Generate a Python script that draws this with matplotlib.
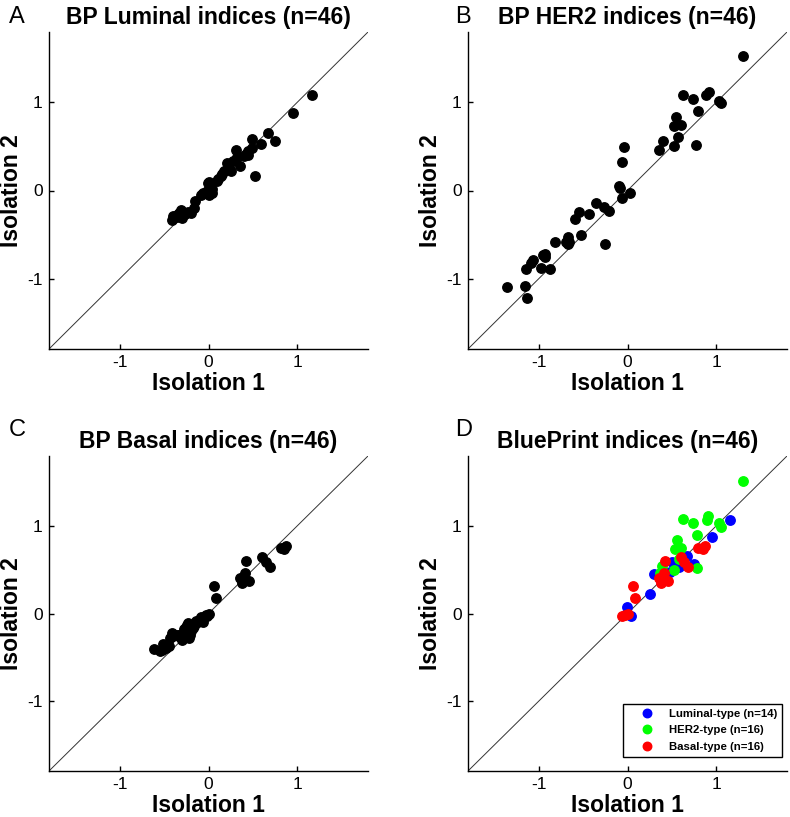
import matplotlib
matplotlib.use("Agg")
import matplotlib.pyplot as plt

plt.rcParams['font.family'] = ['Liberation Sans', 'DejaVu Sans']
plt.rcParams['axes.unicode_minus'] = False

# Panel A: BP Luminal indices
lum_x = [1.17, 0.95, 0.67, 0.75, 0.59, 0.49, 0.49, 0.45, 0.42, 0.40, 0.31, 0.32, 0.35, 0.53,
         0.21, 0.23, 0.25, 0.18, 0.14, 0.11, 0.10, 0.00, -0.01, 0.02, 0.04, 0.04, -0.02, -0.06,
         0.01, -0.15, -0.16, -0.20, -0.23, -0.28, -0.31, -0.33, -0.40, -0.41, -0.30, -0.26,
         -0.36, 0.28, 0.15, 0.45, -0.08, -0.35]
lum_y = [1.08, 0.88, 0.65, 0.56, 0.53, 0.58, 0.48, 0.45, 0.41, 0.39, 0.46, 0.38, 0.28, 0.16,
         0.31, 0.26, 0.22, 0.22, 0.17, 0.13, 0.11, 0.10, 0.08, 0.04, 0.02, -0.03, 0.00, -0.03,
         -0.05, -0.12, -0.20, -0.25, -0.24, -0.26, -0.22, -0.25, -0.29, -0.33, -0.31, -0.27,
         -0.28, 0.33, 0.19, 0.40, -0.05, -0.30]

# Panel B: BP HER2 indices
her_x = [1.30, 0.63, 0.74, 0.89, 0.92, 1.03, 1.06, 0.79, 0.55, 0.53, 0.60, 0.57, 0.77, 0.52,
         0.40, 0.36, -0.04, -0.06, -0.10, -0.09, 0.03, -0.06, -0.36, -0.26, -0.21, -0.44,
         -0.55, -0.59, -0.25, -0.52, -0.67, -0.69, -0.67, -0.82, -0.95, -0.93, -0.98, -0.88,
         -1.07, -1.09, -1.14, -1.16, -1.13, -1.36, -0.93, -0.66]
her_y = [1.53, 1.08, 1.04, 1.08, 1.12, 1.02, 0.99, 0.90, 0.83, 0.73, 0.74, 0.61, 0.52, 0.50,
         0.56, 0.46, 0.49, 0.32, 0.05, 0.03, -0.03, -0.08, -0.14, -0.19, -0.23, -0.27,
         -0.24, -0.32, -0.61, -0.50, -0.53, -0.59, -0.61, -0.58, -0.73, -0.72, -0.88, -0.89,
         -0.79, -0.82, -0.89, -1.08, -1.22, -1.10, -0.76, -0.58]

# Panel C: BP Basal indices
bas_x = [0.88, 0.85, 0.82, 0.60, 0.65, 0.69, 0.42, 0.41, 0.36, 0.38, 0.46, 0.06, 0.08, 0.00,
         -0.03, -0.06, -0.10, -0.06, -0.14, -0.23, -0.25, -0.28, -0.20, -0.21, -0.32, -0.30,
         -0.41, -0.40, -0.36, -0.45, -0.48, -0.51, -0.55, -0.62, -0.52, -0.24, -0.27, -0.18,
         -0.33, -0.22, -0.12, -0.08, -0.16, -0.02, -0.29, -0.43]
bas_y = [0.77, 0.74, 0.75, 0.65, 0.59, 0.53, 0.60, 0.46, 0.41, 0.35, 0.37, 0.31, 0.18, 0.00,
         -0.02, -0.05, -0.06, -0.10, -0.08, -0.11, -0.15, -0.18, -0.20, -0.24, -0.27, -0.30,
         -0.22, -0.26, -0.24, -0.37, -0.39, -0.35, -0.43, -0.40, -0.42, -0.13, -0.22, -0.17,
         -0.25, -0.28, -0.10, -0.04, -0.14, -0.03, -0.24, -0.28]

# Panel D: BluePrint indices by type
d_lum_x = [1.16, 0.95, 0.67, 0.75, 0.58, 0.50, 0.48, 0.43, 0.30, 0.25, -0.01, 0.04, 0.45, 0.40]
d_lum_y = [1.07, 0.87, 0.66, 0.57, 0.53, 0.59, 0.48, 0.42, 0.45, 0.22, 0.08, -0.03, 0.45, 0.40]
d_her_x = [1.30, 0.63, 0.74, 0.90, 0.91, 1.03, 1.06, 0.78, 0.56, 0.54, 0.60, 0.58, 0.78, 0.52, 0.39, 0.37]
d_her_y = [1.52, 1.08, 1.04, 1.07, 1.12, 1.03, 0.99, 0.90, 0.84, 0.74, 0.75, 0.62, 0.52, 0.50, 0.54, 0.46]
d_bas_x = [0.88, 0.85, 0.80, 0.60, 0.64, 0.68, 0.42, 0.41, 0.36, 0.38, 0.46, 0.06, 0.08, 0.00, -0.03, -0.06]
d_bas_y = [0.77, 0.74, 0.75, 0.65, 0.59, 0.53, 0.60, 0.46, 0.41, 0.35, 0.37, 0.31, 0.18, 0.00, -0.02, -0.03]

titles = ['BP Luminal indices (n=46)', 'BP HER2 indices (n=46)',
          'BP Basal indices (n=46)', 'BluePrint indices (n=46)']
letters = ['A', 'B', 'C', 'D']
legend_labels = ['Luminal-type (n=14)', 'HER2-type (n=16)', 'Basal-type (n=16)']
ticks = [-1, 0, 1]
lim = (-1.8, 1.8)

fig = plt.figure(figsize=(7.9, 8.17), dpi=100)
W, H = 790.0, 817.0
boxes = [(49, 32, 319, 317), (468, 32, 319, 317), (49, 456, 319, 315), (468, 456, 319, 315)]
letter_pos = [(9, 17), (455, 17), (9, 430), (455, 430)]

axes = []
for i, (l, t, w, h) in enumerate(boxes):
    ax = fig.add_axes([l / W, 1 - (t + h) / H, w / W, h / H])
    ax.plot(lim, lim, color='#333333', lw=0.7, zorder=1)
    ax.set_xlim(lim)
    ax.set_ylim(lim)
    ax.set_xticks(ticks)
    ax.set_yticks(ticks)
    ax.spines['top'].set_visible(False)
    ax.spines['right'].set_visible(False)
    ax.spines['left'].set_linewidth(1.0)
    ax.spines['bottom'].set_linewidth(1.0)
    ax.tick_params(direction='in', length=3.5, width=1.0, labelsize=12.5, pad=4.5)
    ax.set_xlabel('Isolation 1', fontsize=16.5, fontweight='bold', labelpad=1.5)
    ax.set_ylabel('Isolation 2', fontsize=16.5, fontweight='bold', labelpad=3)
    ax.set_title(titles[i], fontsize=16.5, fontweight='bold', pad=6)
    fig.text(letter_pos[i][0] / W, 1 - letter_pos[i][1] / H, letters[i],
             fontsize=17, va='center', ha='left')
    axes.append(ax)

ms = 6.8
axes[0].plot(lum_x, lum_y, 'o', color='black', ms=ms, zorder=2)
axes[1].plot(her_x, her_y, 'o', color='black', ms=ms, zorder=2)
axes[2].plot(bas_x, bas_y, 'o', color='black', ms=ms, zorder=2)
h1, = axes[3].plot(d_lum_x, d_lum_y, 'o', color='#0000ff', ms=ms, zorder=2)
h2, = axes[3].plot(d_her_x, d_her_y, 'o', color='#00ff00', ms=ms, zorder=2)
h3, = axes[3].plot(d_bas_x, d_bas_y, 'o', color='#ff0000', ms=ms, zorder=2)
leg = axes[3].legend([h1, h2, h3], legend_labels, loc='lower right',
                     prop={'weight': 'bold', 'size': 8.2}, frameon=True, fancybox=False,
                     edgecolor='black', framealpha=1, borderpad=0.45, labelspacing=0.55,
                     handlelength=3.4, handletextpad=0.2, markerscale=0.9,
                     borderaxespad=0, bbox_to_anchor=(0.985, 0.045))
leg.get_frame().set_linewidth(1.0)

fig.savefig('out.png', dpi=100)
